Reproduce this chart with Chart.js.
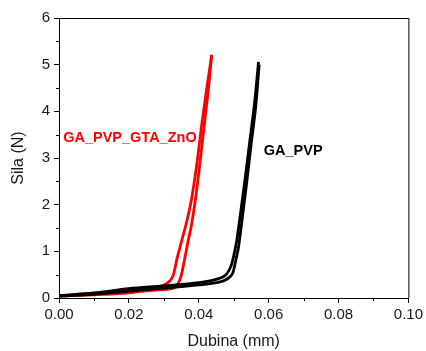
<!DOCTYPE html>
<html>
<head>
<meta charset="utf-8">
<script src="https://cdn.jsdelivr.net/npm/chart.js@4/dist/chart.umd.min.js"></script>
<style>
  html, body { margin: 0; padding: 0; background: #fff; }
  #wrap { width: 426px; height: 351px; }
</style>
</head>
<body>
<div id="wrap"><canvas id="c" width="426" height="351"></canvas></div>
<script>
// ---- data ----
const seriesNames = ['GA_PVP', 'GA_PVP_GTA_ZnO'];

// GA_PVP (black) – upper/left branch
const gaPvpUpX = [0.000, 0.010, 0.020, 0.030, 0.040, 0.045, 0.0475, 0.0484, 0.0493, 0.0500, 0.0508, 0.0515, 0.0530, 0.0545, 0.0560, 0.0571];
const gaPvpUpY = [0.05, 0.11, 0.20, 0.26, 0.33, 0.40, 0.48, 0.56, 0.70, 0.90, 1.20, 1.56, 2.40, 3.30, 4.20, 5.06];
// GA_PVP (black) – lower/right branch
const gaPvpDownX = [0.000, 0.010, 0.020, 0.030, 0.040, 0.045, 0.0475, 0.0490, 0.0498, 0.0506, 0.0514, 0.0522, 0.0536, 0.0550, 0.0563, 0.0573];
const gaPvpDownY = [0.04, 0.08, 0.15, 0.21, 0.28, 0.33, 0.38, 0.46, 0.55, 0.81, 1.10, 1.56, 2.40, 3.30, 4.10, 5.00];

// GA_PVP_GTA_ZnO (red) – upper/left branch
const znoUpX = [0.000, 0.005, 0.010, 0.015, 0.020, 0.025, 0.0279, 0.0308, 0.0327, 0.0338, 0.0352, 0.0366, 0.0380, 0.0395, 0.0410, 0.0423, 0.0437];
const znoUpY = [0.05, 0.07, 0.10, 0.13, 0.16, 0.20, 0.24, 0.31, 0.49, 0.85, 1.25, 1.65, 2.15, 2.90, 3.80, 4.50, 5.21];
// GA_PVP_GTA_ZnO (red) – lower/right branch
const znoDownX = [0.000, 0.010, 0.020, 0.0231, 0.0275, 0.0327, 0.0341, 0.0350, 0.0360, 0.0369, 0.0379, 0.0392, 0.0405, 0.0418, 0.0428, 0.0437];
const znoDownY = [0.04, 0.07, 0.11, 0.14, 0.17, 0.21, 0.31, 0.49, 0.85, 1.20, 1.56, 2.20, 3.00, 3.85, 4.50, 5.21];

// axis ranges / labels
const xTitle = 'Dubina (mm)';
const yTitle = 'Sila (N)';
const xMin = 0, xMax = 0.10, xStep = 0.01;
const yMin = 0, yMax = 6, yStep = 0.5;

// in-plot labels (data coordinates: left edge, vertical centre)
const noteText = ['GA_PVP_GTA_ZnO', 'GA_PVP'];
const noteX = [0.0012, 0.0586];
const noteY = [3.42, 3.16];
const noteColor = ['#ff0000', '#000000'];

const toPts = (xs, ys) => xs.map((x, i) => ({ x: x, y: ys[i] }));

const FONT = '"Liberation Sans", Arial, sans-serif';

const framePlugin = {
  id: 'frame',
  afterDraw(chart) {
    const { ctx, chartArea: a, scales } = chart;
    ctx.save();
    ctx.strokeStyle = '#000';
    ctx.lineWidth = 1;
    ctx.beginPath();
    ctx.moveTo(a.left, a.top + 0.5);
    ctx.lineTo(a.right + 0.5, a.top + 0.5);
    ctx.lineTo(a.right + 0.5, a.bottom);
    ctx.stroke();
    // minor ticks
    const xs = scales.x, ys = scales.y;
    ctx.beginPath();
    xs.ticks.forEach((t, i) => {
      if (i % 2 === 1) {
        const px = Math.round(xs.getPixelForValue(t.value)) + 0.5;
        ctx.moveTo(px, a.bottom);
        ctx.lineTo(px, a.bottom + 3);
      }
    });
    ys.ticks.forEach((t, i) => {
      if (i % 2 === 1) {
        const py = Math.round(ys.getPixelForValue(t.value)) + 0.5;
        ctx.moveTo(a.left, py);
        ctx.lineTo(a.left - 3, py);
      }
    });
    ctx.stroke();
    ctx.restore();
  },
  afterDatasetsDraw(chart) {
    const { ctx, scales } = chart;
    ctx.save();
    ctx.font = 'bold 14.5px ' + FONT;
    ctx.textBaseline = 'middle';
    ctx.textAlign = 'left';
    noteText.forEach((t, i) => {
      ctx.fillStyle = noteColor[i];
      ctx.fillText(t, scales.x.getPixelForValue(noteX[i]), scales.y.getPixelForValue(noteY[i]));
    });
    ctx.restore();
  }
};

const lineDs = (label, xs, ys, color) => ({
  label: label,
  data: toPts(xs, ys),
  showLine: true,
  borderColor: color,
  backgroundColor: color,
  borderWidth: 2.8,
  pointRadius: 0,
  cubicInterpolationMode: 'monotone',
  fill: false
});

new Chart(document.getElementById('c'), {
  type: 'scatter',
  data: {
    datasets: [
      lineDs(seriesNames[0], gaPvpUpX, gaPvpUpY, '#000000'),
      lineDs(seriesNames[0], gaPvpDownX, gaPvpDownY, '#000000'),
      lineDs(seriesNames[1], znoUpX, znoUpY, '#ff0000'),
      lineDs(seriesNames[1], znoDownX, znoDownY, '#ff0000')
    ]
  },
  options: {
    responsive: false,
    animation: false,
    devicePixelRatio: 1,
    layout: { padding: { top: 18, right: 17, left: 0, bottom: 0 } },
    plugins: { legend: { display: false }, tooltip: { enabled: false } },
    scales: {
      x: {
        type: 'linear',
        min: xMin, max: xMax,
        afterFit(s) { s.height = 53; },
        border: { display: true, color: '#000', width: 1 },
        grid: {
          drawOnChartArea: false, drawTicks: true, tickLength: 5,
          tickColor: (c) => (c.index % 2 === 0 ? '#000' : 'rgba(0,0,0,0)')
        },
        ticks: {
          stepSize: xStep, autoSkip: false, maxRotation: 0, padding: 3,
          color: '#1a1a1a', font: { family: FONT, size: 15 },
          callback: (v, i) => (i % 2 === 0 ? Number(v).toFixed(2) : '')
        },
        title: {
          display: true, text: xTitle, color: '#1a1a1a',
          font: { family: FONT, size: 16 }, padding: { top: 0, bottom: 0 }
        }
      },
      y: {
        type: 'linear',
        min: yMin, max: yMax,
        afterFit(s) { s.width = 59; },
        border: { display: true, color: '#000', width: 1 },
        grid: {
          drawOnChartArea: false, drawTicks: true, tickLength: 5,
          tickColor: (c) => (c.index % 2 === 0 ? '#000' : 'rgba(0,0,0,0)')
        },
        ticks: {
          stepSize: yStep, autoSkip: false, padding: 4,
          color: '#1a1a1a', font: { family: FONT, size: 15 },
          callback: (v, i) => (i % 2 === 0 ? String(Math.round(v)) : '')
        },
        title: {
          display: true, text: yTitle, color: '#1a1a1a',
          font: { family: FONT, size: 16 }, padding: { top: 9, bottom: 0 }
        }
      }
    }
  },
  plugins: [framePlugin]
});
</script>
</body>
</html>
